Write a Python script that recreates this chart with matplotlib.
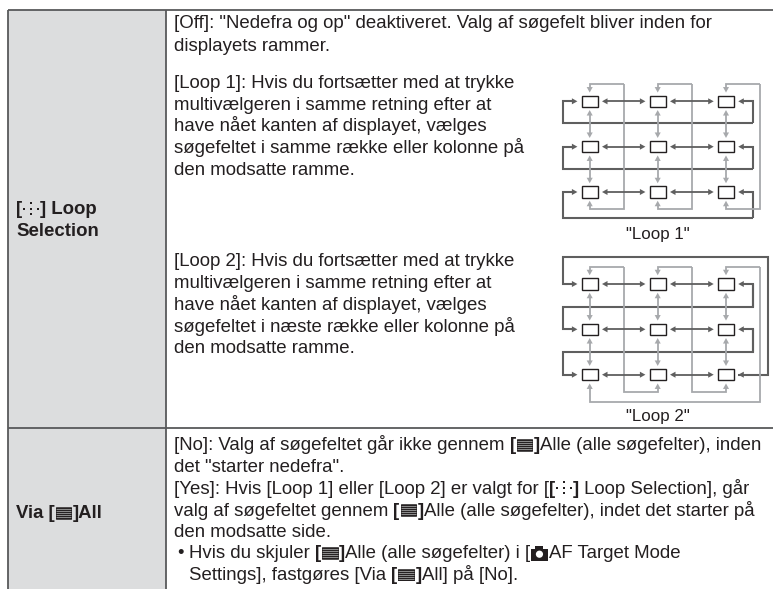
import re
import matplotlib
matplotlib.use("Agg")
import matplotlib.pyplot as plt
from matplotlib.patches import Rectangle, Polygon

W, H = 773, 589
plt.rcParams['font.family'] = ['Liberation Sans', 'DejaVu Sans']

# text of the table, *bold*, {g} = all points icon, {d} = loop icon, {c} = camera
head_loop = ["*[{d}] Loop*", "*Selection*"]
head_via = ["*Via [{g}]All*"]
off_lines = ['[Off]: "Nedefra og op" deaktiveret. Valg af søgefelt bliver inden for',
             'displayets rammer.']
loop1_lines = ['[Loop 1]: Hvis du fortsætter med at trykke',
               'multivælgeren i samme retning efter at',
               'have nået kanten af displayet, vælges',
               'søgefeltet i samme række eller kolonne på',
               'den modsatte ramme.']
loop2_lines = ['[Loop 2]: Hvis du fortsætter med at trykke',
               'multivælgeren i samme retning efter at',
               'have nået kanten af displayet, vælges',
               'søgefeltet i næste række eller kolonne på',
               'den modsatte ramme.']
via_lines = ['[No]: Valg af søgefeltet går ikke gennem *[{g}]*Alle (alle søgefelter), inden',
             'det "starter nedefra".',
             '[Yes]: Hvis [Loop 1] eller [Loop 2] er valgt for [*[{d}]* Loop Selection], går',
             'valg af søgefeltet gennem *[{g}]*Alle (alle søgefelter), indet det starter på',
             'den modsatte side.']
bullet = '•'
note_lines = ['Hvis du skjuler *[{g}]*Alle (alle søgefelter) i [{c}AF Target Mode',
              'Settings], fastgøres [Via *[{g}]*All] på [No].']
caption1 = '"Loop 1"'
caption2 = '"Loop 2"'

FS = 13.45
DARK = '#5f5f5f'
LIGHT = '#a7a9ac'
TXT = '#231f20'

fig = plt.figure(figsize=(W / 100, H / 100), dpi=100)
ax = fig.add_axes([0, 0, 1, 1])
ax.set_xlim(0, W)
ax.set_ylim(H, 0)
ax.axis('off')

# table
ax.add_patch(Rectangle((7.5, 10), 158.5, H - 10, fc='#dcddde', ec='none'))
line_kw = dict(color='#58595b', lw=1.3, solid_capstyle='butt')
ax.plot([7.5, W], [10, 10], **line_kw)
ax.plot([7.5, W], [428, 428], **line_kw)
ax.plot([7.5, 7.5], [10, H], **line_kw)
ax.plot([166, 166], [10, H], **line_kw)

rend = fig.canvas.get_renderer()


def text_w(s, weight):
    # bar on the end so trailing spaces count
    a = ax.text(0, 0, s + '|', fontsize=FS, fontweight=weight)
    b = ax.text(0, 0, '|', fontsize=FS, fontweight=weight)
    w = a.get_window_extent(rend).width - b.get_window_extent(rend).width
    a.remove()
    b.remove()
    return w


def icon_grid(x, y):
    ax.add_patch(Rectangle((x + 1, y - 6), 15.5, 11.5, fc='#8a8a8a', ec=TXT, lw=0.5))
    for i in range(6):
        ax.plot([x + 1, x + 16.5], [y - 5 + i * 2] * 2, color=TXT, lw=0.7)
    return 18


def icon_dots(x, y):
    for dx, dy in [(2, 0), (9, -6), (9, 0), (9, 5), (16, 0)]:
        ax.add_patch(Rectangle((x + dx - 1.1, y + dy - 1.1), 2.2, 2.2, fc=TXT, ec='none'))
    return 18


def icon_cam(x, y):
    ax.add_patch(Rectangle((x + 0.5, y - 4.5), 17.5, 12, fc=TXT, ec='none'))
    ax.add_patch(Rectangle((x + 5, y - 7), 8, 3, fc=TXT, ec='none'))
    ax.add_patch(plt.Circle((x + 9.2, y + 1.2), 3.6, fc='white', ec='none'))
    return 18.5


ICONS = {'g': icon_grid, 'd': icon_dots, 'c': icon_cam}


def put_line(x, y, line):
    bold = False
    for part in re.split(r'(\*|\{\w\})', line):
        if part == '*':
            bold = not bold
        elif part.startswith('{'):
            x += ICONS[part[1]](x, y)
        elif part:
            weight = 'bold' if bold else 'normal'
            ax.text(x, y + 5.5, part, fontsize=FS, fontweight=weight, color=TXT, va='baseline')
            x += text_w(part, weight)


def put_block(x, y, lines, step=21.7):
    for i, line in enumerate(lines):
        put_line(x, y + i * step, line)


put_block(16, 209, head_loop)
put_block(16, 513, head_via)
put_block(174, 23, off_lines, 22.5)
put_block(174, 82.5, loop1_lines)
put_block(174, 261, loop2_lines)
put_block(174, 445, via_lines)
put_line(177, 553, bullet)
put_block(189, 553, note_lines)
ax.text(657.5, 233, caption1, fontsize=12.2, color=TXT, ha='center', va='center_baseline')
ax.text(657.5, 415, caption2, fontsize=12.2, color=TXT, ha='center', va='center_baseline')

# loop diagrams
cols = [589.7, 657.7, 726]
rows1 = [101.3, 146.7, 192]
rows2 = [284, 329.3, 374.7]
BW, BH = 15.6, 11.5


def head(x, y, dx, dy, color, s=5.5):
    px, py = -dy, dx
    ax.add_patch(Polygon([(x, y), (x - dx * s + px * s * .55, y - dy * s + py * s * .55),
                          (x - dx * s - px * s * .55, y - dy * s - py * s * .55)],
                         closed=True, fc=color, ec='none', zorder=3))


def arrow(xs, ys, color, lw=1.3, both=False):
    def tip(x0, y0, x1, y1):
        dx = (x1 > x0) - (x1 < x0)
        dy = (y1 > y0) - (y1 < y0)
        head(x1, y1, dx, dy, color)
        return x1 - dx * 4, y1 - dy * 4
    xs, ys = list(xs), list(ys)
    xs[-1], ys[-1] = tip(xs[-2], ys[-2], xs[-1], ys[-1])
    if both:
        xs[0], ys[0] = tip(xs[1], ys[1], xs[0], ys[0])
    ax.plot(xs, ys, color=color, lw=lw, solid_joinstyle='miter', solid_capstyle='butt', zorder=2)


def grid_parts(rows):
    gap = 4.5
    for y in rows:
        for c0, c1 in zip(cols[:-1], cols[1:]):
            arrow([c0 + BW / 2 + gap, c1 - BW / 2 - gap], [y, y], DARK, both=True)
    for c in cols:
        for r0, r1 in zip(rows[:-1], rows[1:]):
            arrow([c, c], [r0 + BH / 2 + 3, r1 - BH / 2 - 3], LIGHT, both=True)
    for y in rows:
        for c in cols:
            ax.add_patch(Rectangle((c - BW / 2, y - BH / 2), BW, BH, fc='white', ec='#231f20', lw=1.0, zorder=4))


xl, xr = 562.7, 752.7
lx, rx = cols[0] - BW / 2 - 4.5, cols[2] + BW / 2 + 4.5
# Loop 1, dark row returns
for y, yb in zip(rows1, [123.3, 168.7, 218.3]):
    arrow([xr, xr, xl, xl, lx], [yb, yb, yb, y, y], DARK, lw=1.5)
    arrow([xr, xr, rx], [yb, y, y], DARK, lw=1.5)
# Loop 1, light column returns
for c, xv in zip(cols, [624, 692.3, 760]):
    arrow([xv, c, c], [84, 84, rows1[0] - BH / 2 - 3], LIGHT)
    arrow([xv, xv, c, c], [84, 209, 209, rows1[2] + BH / 2 + 3], LIGHT)
grid_parts(rows1)

# Loop 2, dark returns
top, xo = 257.3, 767.7
arrow([rx, xo, xo, xl, xl, lx], [rows2[2], rows2[2], top, top, rows2[0], rows2[0]], DARK, lw=1.5)
head(rx, rows2[2], -1, 0, DARK)
for i, yb in enumerate([306.7, 352]):
    arrow([xr, xr, xl, xl, lx], [rows2[i], yb, yb, rows2[i + 1], rows2[i + 1]], DARK, lw=1.5)
    arrow([xr, xr, rx], [yb, rows2[i], rows2[i]], DARK, lw=1.5)
# Loop 2, light returns
t2 = 267.3
for c, xv, c2 in zip(cols[:2], [624, 692.3], cols[1:]):
    arrow([xv, c, c], [t2, t2, rows2[0] - BH / 2 - 3], LIGHT)
    arrow([xv, xv, c2, c2], [t2, 392, 392, rows2[2] + BH / 2 + 3], LIGHT)
arrow([760, cols[2], cols[2]], [t2, t2, rows2[0] - BH / 2 - 3], LIGHT)
arrow([760, 760, cols[0], cols[0]], [t2, 402, 402, rows2[2] + BH / 2 + 3], LIGHT)
grid_parts(rows2)

fig.savefig('out.png', dpi=100)
